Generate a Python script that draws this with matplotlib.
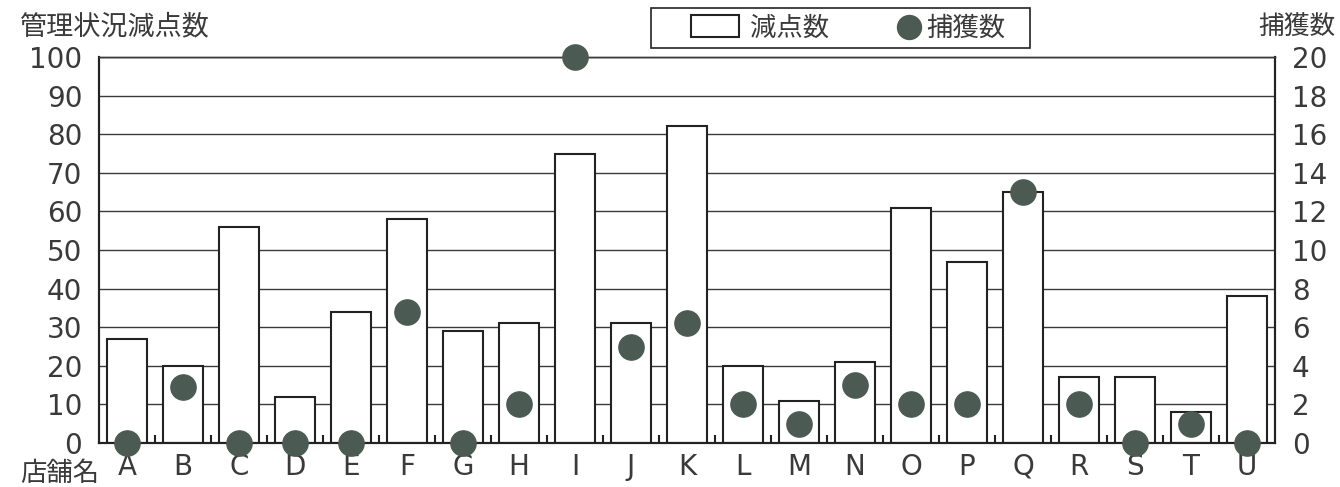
import matplotlib
matplotlib.use("Agg")
import matplotlib.pyplot as plt
import numpy as np
from matplotlib.ticker import MultipleLocator, FixedLocator
from matplotlib.legend_handler import HandlerPathCollection
from matplotlib.patches import Rectangle

plt.rcParams['font.family'] = ['Noto Sans CJK JP', 'DejaVu Sans']

stores = list("ABCDEFGHIJKLMNOPQRSTU")
deductions = [27, 20, 56, 12, 34, 58, 29, 31, 75, 31, 82, 20, 11, 21, 61, 47, 65, 17, 17, 8, 38]
captures = [0, 2.9, 0, 0, 0, 6.8, 0, 2, 20, 5, 6.2, 2, 1, 3, 2, 2, 13, 2, 0, 1, 0]

dot_color = "#4b5a53"
text_color = "#3a3a3a"
line_color = "#3a3a3a"
num_font = "DejaVu Sans"

W, H = 1340, 487
fig = plt.figure(figsize=(W / 100, H / 100), dpi=100)
ax = fig.add_axes([99 / W, 1 - 443 / H, (1275 - 99) / W, (443 - 57) / H])
ax2 = ax.twinx()

x = np.arange(len(stores))
ax.set_axisbelow(True)
ax.yaxis.grid(True, color=line_color, linewidth=1.0)
ax.bar(x, deductions, width=0.72, color="white", edgecolor="#222222", linewidth=1.5,
       zorder=2, label="減点数")
ax2.scatter(x, captures, s=330, color=dot_color, zorder=5, clip_on=False, label="捕獲数")

ax.set_xlim(-0.5, len(stores) - 0.5)
ax.set_ylim(0, 100)
ax2.set_ylim(0, 20)
ax.yaxis.set_major_locator(MultipleLocator(10))
ax2.yaxis.set_major_locator(MultipleLocator(2))

ax.set_xticks(x)
ax.set_xticklabels(stores)
ax.xaxis.set_minor_locator(FixedLocator(np.arange(0.5, len(stores) - 1, 1.0)))
ax.tick_params(axis="x", which="major", length=0, pad=7, labelsize=20, labelcolor=text_color)
ax.tick_params(axis="x", which="minor", direction="in", length=6, width=1.5, color="#222222")
ax.tick_params(axis="y", length=0, pad=12, labelsize=20, labelcolor=text_color)
ax2.tick_params(axis="y", length=0, pad=12, labelsize=20, labelcolor=text_color)
for lbl in ax.get_xticklabels() + ax.get_yticklabels() + ax2.get_yticklabels():
    lbl.set_family(num_font)

for a in (ax, ax2):
    for side in ("left", "right", "bottom", "top"):
        a.spines[side].set_color("#222222")
        a.spines[side].set_linewidth(1.5)
    a.spines["top"].set_linewidth(1.0)
    a.spines["top"].set_color(line_color)

fig.text(20 / W, 1 - 27 / H, "管理状況減点数", fontsize=19.5, color=text_color,
         ha="left", va="center")
fig.text(1336 / W, 1 - 27 / H, "捕獲数", fontsize=18.5, color=text_color,
         ha="right", va="center")
fig.text(20 / W, 1 - 473 / H, "店舗名", fontsize=19, color=text_color,
         ha="left", va="center")

# legend entries without their own frame; the box is drawn separately
h1, l1 = ax.get_legend_handles_labels()
h2, l2 = ax2.get_legend_handles_labels()
leg = fig.legend(h1 + h2, l1 + l2, loc="center", bbox_to_anchor=(848 / W, 1 - 28 / H),
                 ncol=2, frameon=False, fontsize=19, handlelength=1.8,
                 handleheight=0.9, handletextpad=0.45, columnspacing=1.4, borderpad=0.25,
                 borderaxespad=0, markerscale=0.95,
                 handler_map={h2[0]: HandlerPathCollection(xpad=1.4)})
for t in leg.get_texts():
    t.set_color(text_color)
fig.patches.append(Rectangle((651 / W, 1 - 48 / H), (1030 - 651) / W, 40 / H,
                             transform=fig.transFigure, facecolor="none",
                             edgecolor="#222222", linewidth=1.2))

fig.savefig("out.png", dpi=100, facecolor="white")
